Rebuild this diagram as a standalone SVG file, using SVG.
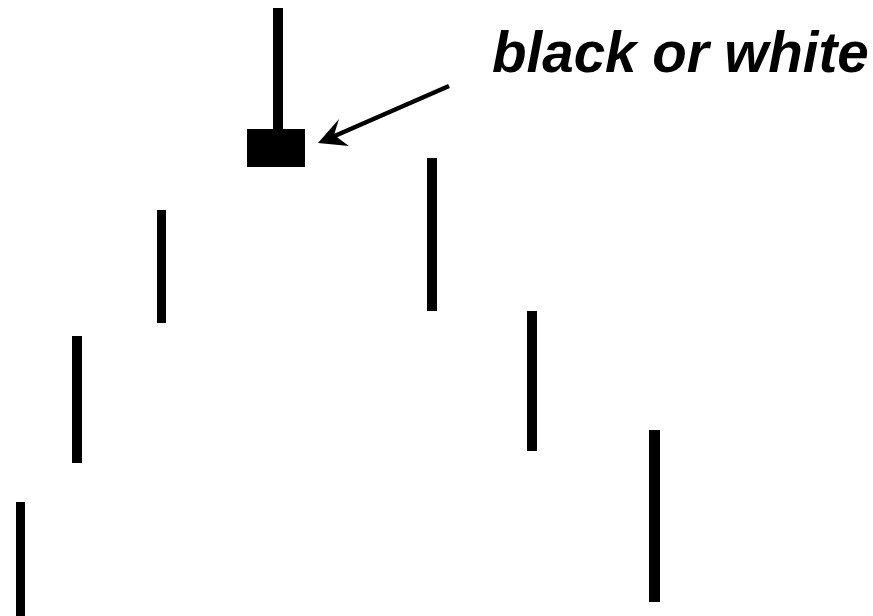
<svg xmlns="http://www.w3.org/2000/svg" width="873" height="616" viewBox="0 0 873 616">
<style>
.bar{fill:#000}
.lbl{font-family:"Liberation Sans",Arial,sans-serif;font-weight:bold;font-style:italic;font-size:56.5px;fill:#000}
</style>
<rect width="873" height="616" fill="#fff"/>
<g id="stone">
<rect class="bar" x="273" y="8" width="10" height="122"/>
<rect class="bar" x="247" y="129" width="58" height="38"/>
</g>
<g id="bars">
<rect class="bar" x="157" y="210" width="9" height="113"/>
<rect class="bar" x="72" y="336" width="10" height="127"/>
<rect class="bar" x="16" y="502" width="9" height="114"/>
<rect class="bar" x="427" y="158" width="10" height="153"/>
<rect class="bar" x="527" y="311" width="10" height="140"/>
<rect class="bar" x="649" y="430" width="11" height="172"/>
</g>
<g id="connectors">
<line x1="449" y1="86" x2="330" y2="138" stroke="#000" stroke-width="4.5"/>
<polygon points="318,143 339,119 334,135 349,146" fill="#000"/>
</g>
<g id="label">
<text class="lbl" x="492" y="72">black or white</text>
</g>
</svg>
